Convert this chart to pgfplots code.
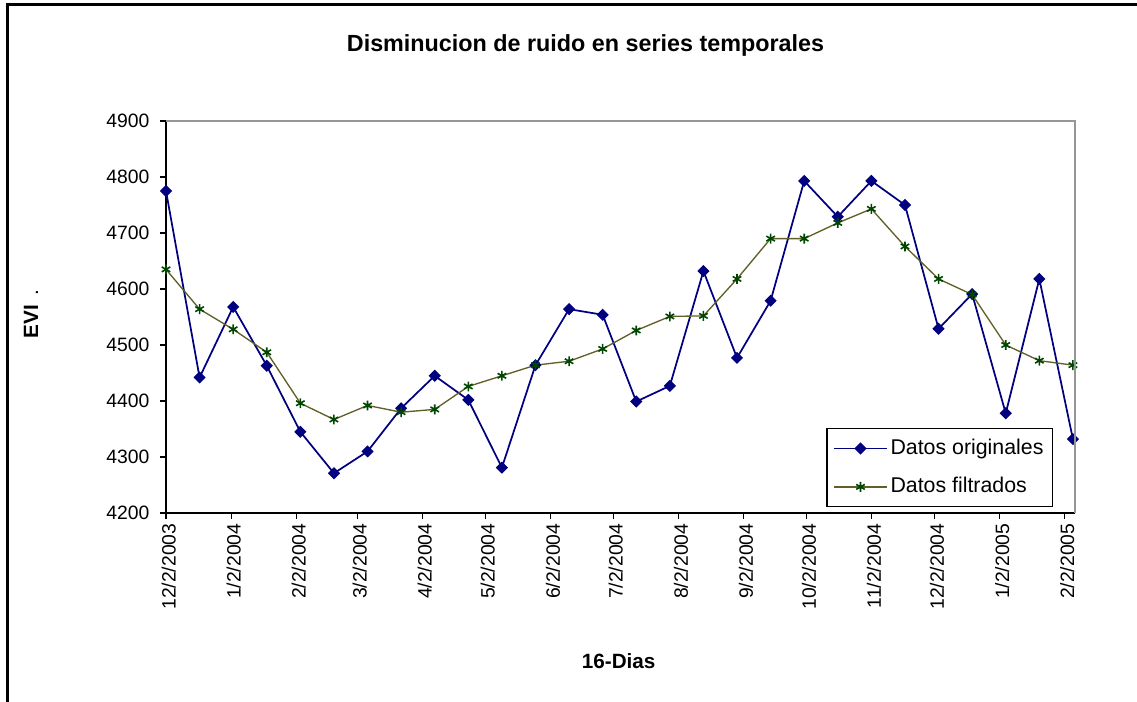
\documentclass[border=0pt]{standalone}
\usepackage{pgfplots}
\pgfplotsset{compat=1.18}
\usepackage{fontspec}
\setmainfont{Liberation Sans}
\definecolor{navyblue}{RGB}{0,0,128}
\definecolor{olivebrown}{RGB}{96,96,40}
\definecolor{dkgreen}{RGB}{0,70,0}
\definecolor{framegray}{RGB}{150,150,150}

\pgfplotstableread{
x   orig  filt
0   4775  4635
16  4442  4564
32  4568  4528
48  4463  4487
64  4345  4396
80  4271  4367
96  4310  4392
112 4387  4380
128 4445  4385
144 4402  4426
160 4281  4445
176 4464  4464
192 4564  4471
208 4554  4493
224 4399  4526
240 4427  4551
256 4632  4552
272 4477  4618
288 4579  4690
304 4793  4690
320 4729  4718
336 4793  4743
352 4750  4676
368 4529  4618
384 4591  4590
400 4378  4500
416 4618  4472
432 4332  4464
}\datatable

\begin{document}
\begin{tikzpicture}
\useasboundingbox (0,0) rectangle (852.75pt,526.5pt);
\fill[white] (0,0) rectangle (852.75pt,526.5pt);
\draw[line width=2pt, black] (5.6pt,0pt) -- (5.6pt,523.1pt) -- (853pt,523.1pt);
\begin{axis}[
  at={(124.5pt,141.75pt)}, anchor=south west,
  scale only axis, width=681.75pt, height=294pt,
  xmin=0, xmax=433, ymin=4200, ymax=4900,
  axis x line*=bottom, axis y line*=left,
  axis line style={line width=0.9pt, black, -},
  xtick={0,31,62,91,122,152,183,213,244,275,305,336,366,397,428},
  xticklabels={12/2/2003,1/2/2004,2/2/2004,3/2/2004,4/2/2004,5/2/2004,6/2/2004,7/2/2004,8/2/2004,9/2/2004,10/2/2004,11/2/2004,12/2/2004,1/2/2005,2/2/2005},
  ytick={4200,4300,4400,4500,4600,4700,4800,4900},
  tick align=outside, major tick length=4.5pt,
  tick style={black, line width=0.8pt},
  xticklabel style={rotate=90, anchor=east, yshift=-2pt, font=\fontsize{14.5}{14}\selectfont},
  yticklabel style={xshift=-4.5pt, font=\fontsize{14.5}{14}\selectfont},
  /pgf/number format/assume math mode=true,
  /pgf/number format/1000 sep={},
  clip=false,
  title={Disminucion de ruido en series temporales},
  title style={at={(rel axis cs:0.4615,1.171)}, anchor=center, font=\bfseries\fontsize{17.5}{18}\selectfont},
  xlabel={16-Dias},
  xlabel style={at={(rel axis cs:0.498,-0.3776)}, anchor=center, font=\bfseries\fontsize{15.5}{18}\selectfont},
  ylabel={{\bfseries EVI}\hspace{7pt}.},
  ylabel style={at={(rel axis cs:-0.1485,0.508)}, anchor=center, font=\fontsize{15.5}{18}\selectfont},
  legend style={at={(0.9758,0.2168)}, anchor=north east, draw=black, line width=1pt,
    font=\fontsize{16}{18}\selectfont, inner xsep=4.65pt, inner ysep=5.1pt, row sep=9.3pt,
    nodes={inner sep=2pt, text height=12pt, text depth=3.5pt}},
  legend cell align=left,
  legend image code/.code={\draw[mark repeat=2, mark phase=2] plot coordinates {(0pt,0pt) (19.9pt,0pt) (39.75pt,0pt)};},
  after end axis/.code={\draw[framegray, line width=1.1pt] (rel axis cs:0,1) -- (rel axis cs:1,1) -- (rel axis cs:1,0);},
]
\addplot[navyblue, line width=1.3pt, mark=diamond*, mark size=4pt,
  mark options={xscale=1.333, fill=navyblue, draw=navyblue, solid, line width=0.8pt}] table[x=x, y=orig] {\datatable};
\addlegendentry{Datos originales}
\addplot[olivebrown, line width=1pt, mark=asterisk, mark size=3.7pt,
  mark options={draw=dkgreen, line width=1.2pt, solid}] table[x=x, y=filt] {\datatable};
\addlegendentry{Datos filtrados}
\end{axis}
\end{tikzpicture}
\end{document}
